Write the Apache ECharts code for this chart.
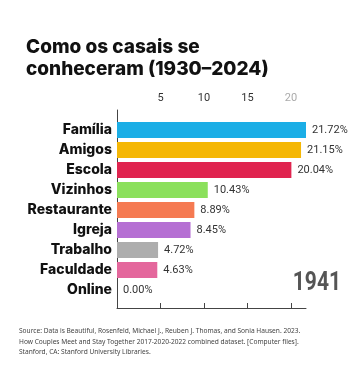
<!DOCTYPE html>
<html>
<head>
<meta charset="utf-8">
<script src="https://cdn.jsdelivr.net/npm/echarts@6/dist/echarts.min.js"></script>
<style>html,body{margin:0;padding:0;background:#fff}#c{width:360px;height:388px}</style>
</head>
<body>
<div id="c"></div>
<script>
const categories = ['Família','Amigos','Escola','Vizinhos','Restaurante','Igreja','Trabalho','Faculdade','Online'];
const values = [21.72, 21.15, 20.04, 10.43, 8.89, 8.45, 4.72, 4.63, 0.00];
const colors = ['#1BAEE6','#F5B705','#E0244F','#8BE05C','#F57A52','#B56FD3','#ADADAD','#E4679C','#9BD0F0'];
const tickValues = [5, 10, 15, 20];
const year = '1941';
const titleText = 'Como os casais se\nconheceram (1930–2024)';
const sourceText = 'Source: Data is Beautiful, Rosenfeld, Michael J., Reuben J. Thomas, and Sonia Hausen. 2023.\nHow Couples Meet and Stay Together 2017-2020-2022 combined dataset. [Computer files].\nStanford, CA: Stanford University Libraries.';

const xMax = Math.max(...values);
const chart = echarts.init(document.getElementById('c'), null, {renderer: 'canvas'});
chart.setOption({
  backgroundColor: '#ffffff',
  animation: false,
  title: [
    {text: titleText, left: 21, top: 31,
     textStyle: {fontFamily: 'Inter', fontWeight: 800, fontSize: 19, lineHeight: 22, color: '#111'}},
    {text: sourceText, left: 14, top: 321,
     textStyle: {fontFamily: 'Noto Sans', fontWeight: 400, fontSize: 6.6, lineHeight: 10.5, color: '#444'}}
  ],
  graphic: [{
    type: 'text', x: 341, y: 284, scaleX: 0.84,
    style: {text: year, align: 'right', verticalAlign: 'middle',
      font: '700 25px Roboto', fill: '#555'}
  }],
  grid: [
    {left: 117, right: 54, top: 120, height: 180, containLabel: false},
    {left: 117, right: 54, top: 110, height: 198, containLabel: false}
  ],
  xAxis: [
    {gridIndex: 0, type: 'value', min: 0, max: xMax, show: false},
    {gridIndex: 1, type: 'value', position: 'top', min: 0, max: xMax, interval: 5,
     axisLine: {show: true, lineStyle: {color: '#444', width: 1}},
     axisTick: {show: true, inside: false, length: 5, lineStyle: {color: '#444'},
       customValues: tickValues},
     axisLabel: {show: true, margin: 6, fontFamily: 'Roboto', fontSize: 11, color: '#333',
       customValues: tickValues,
       formatter: v => v === 20 ? '{f|' + v + '}' : String(v),
       rich: {f: {color: '#AAAAAA', fontFamily: 'Roboto', fontSize: 11}}},
     splitLine: {show: false}}
  ],
  yAxis: [
    {gridIndex: 0, type: 'category', data: categories, inverse: true,
     axisLine: {show: false}, axisTick: {show: false},
     axisLabel: {margin: 5, fontFamily: 'Inter', fontWeight: 800, fontSize: 14, color: '#111'}},
    {gridIndex: 1, type: 'value', min: 0, max: 1,
     axisLine: {show: true, lineStyle: {color: '#444', width: 1}},
     axisTick: {show: false}, axisLabel: {show: false}, splitLine: {show: false}}
  ],
  series: [{
    type: 'bar', xAxisIndex: 0, yAxisIndex: 0,
    data: values.map((v, i) => ({value: v, itemStyle: {color: colors[i]}})),
    barWidth: 16,
    label: {show: true, position: 'right', distance: 6, fontFamily: 'Roboto', fontSize: 11, color: '#333',
      formatter: p => p.value.toFixed(2) + '%'}
  }]
});
</script>
</body>
</html>
